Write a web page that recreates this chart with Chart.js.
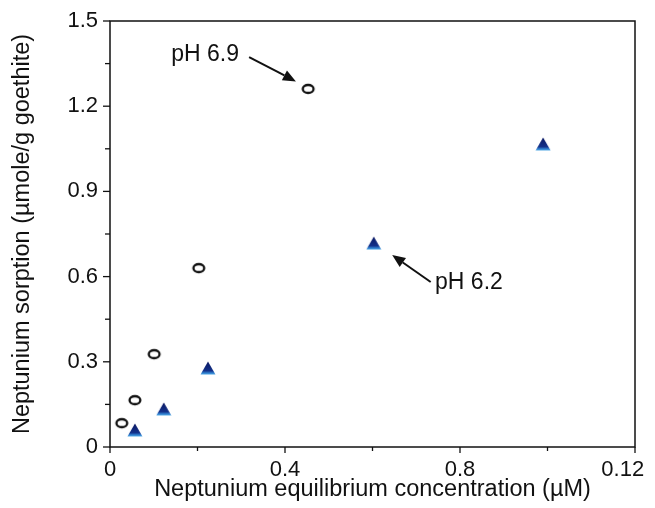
<!DOCTYPE html>
<html>
<head>
<meta charset="utf-8">
<script src="https://cdn.jsdelivr.net/npm/chart.js@4.4.1/dist/chart.umd.min.js"></script>
<style>
html,body{margin:0;padding:0;background:#fff;}
#wrap{width:655px;height:508px;position:relative;}
</style>
</head>
<body>
<div id="wrap"><canvas id="c" width="655" height="508"></canvas></div>
<script>
// ---- data ----
const ph69X = [0.027, 0.057, 0.101, 0.203, 0.453];
const ph69Y = [0.084, 0.165, 0.327, 0.630, 1.261];
const ph62X = [0.057, 0.123, 0.224, 0.603, 0.990];
const ph62Y = [0.060, 0.134, 0.278, 0.718, 1.067];

const xTickValues = [0, 0.4, 0.8, 1.2];
const xTickLabels = ['0', '0.4', '0.8', '0.12    '];
const yTickValues = [0, 0.3, 0.6, 0.9, 1.2, 1.5];
const yTickLabels = ['0', '0.3', '0.6', '0.9', '1.2', '1.5'];

const xTitle = 'Neptunium equilibrium concentration (\u00b5M)';
const yTitle = 'Neptunium sorption (\u00b5mole/g goethite)';

// annotation text + arrow (data units)
const annotations = [
  {text: 'pH 6.9', tx: 0.140, ty: 1.380, x0: 0.318, y0: 1.373, x1: 0.425, y1: 1.287},
  {text: 'pH 6.2', tx: 0.743, ty: 0.577, x0: 0.733, y0: 0.581, x1: 0.645, y1: 0.676}
];

const FONT = '"Liberation Sans", Arial, sans-serif';

// marker images
function makeCircle(){
  const c = document.createElement('canvas'); c.width = 16; c.height = 14;
  const g = c.getContext('2d');
  g.beginPath(); g.ellipse(8, 7, 5.4, 4.0, 0, 0, Math.PI*2);
  g.fillStyle = '#fff'; g.fill();
  g.lineWidth = 2.3; g.strokeStyle = '#111'; g.stroke();
  return c;
}
function makeTriangle(){
  const c = document.createElement('canvas'); c.width = 16; c.height = 14;
  const g = c.getContext('2d');
  g.beginPath(); g.moveTo(8, 0.5); g.lineTo(15.5, 13.5); g.lineTo(0.5, 13.5); g.closePath();
  const gr = g.createLinearGradient(0, 0, 0, 14);
  gr.addColorStop(0, '#0a1660'); gr.addColorStop(0.7, '#13318a'); gr.addColorStop(0.85, '#2f7fcf'); gr.addColorStop(1, '#5db4ea');
  g.fillStyle = gr; g.fill();
  return c;
}

function idx(vals, v){ return vals.findIndex(t => Math.abs(t - v) < 1e-6); }

const frameAndTicks = {
  id: 'frameAndTicks',
  afterDraw(chart){
    const {ctx, chartArea: a, scales: {x, y}} = chart;
    ctx.save();
    ctx.strokeStyle = '#111'; ctx.lineWidth = 1.5;
    ctx.strokeRect(a.left, a.top, a.right - a.left, a.bottom - a.top);
    ctx.lineWidth = 1.3;
    x.ticks.forEach(t => {
      const px = x.getPixelForValue(t.value);
      const major = idx(xTickValues, t.value) >= 0;
      ctx.beginPath(); ctx.moveTo(px, a.bottom); ctx.lineTo(px, a.bottom + (major ? 6 : 4)); ctx.stroke();
    });
    y.ticks.forEach(t => {
      const py = y.getPixelForValue(t.value);
      const major = idx(yTickValues, t.value) >= 0;
      ctx.beginPath(); ctx.moveTo(a.left, py); ctx.lineTo(a.left - (major ? 7 : 5), py); ctx.stroke();
    });
    // annotations
    ctx.fillStyle = '#111'; ctx.strokeStyle = '#111';
    ctx.font = '23px ' + FONT; ctx.textBaseline = 'middle'; ctx.textAlign = 'left';
    annotations.forEach(an => {
      ctx.fillText(an.text, x.getPixelForValue(an.tx), y.getPixelForValue(an.ty));
      const X0 = x.getPixelForValue(an.x0), Y0 = y.getPixelForValue(an.y0);
      const X1 = x.getPixelForValue(an.x1), Y1 = y.getPixelForValue(an.y1);
      const ang = Math.atan2(Y1 - Y0, X1 - X0);
      const hl = 13, hw = 5.5;
      const bx = X1 - hl*Math.cos(ang), by = Y1 - hl*Math.sin(ang);
      ctx.lineWidth = 2;
      ctx.beginPath(); ctx.moveTo(X0, Y0); ctx.lineTo(bx, by); ctx.stroke();
      ctx.beginPath(); ctx.moveTo(X1, Y1);
      ctx.lineTo(bx + hw*Math.sin(ang), by - hw*Math.cos(ang));
      ctx.lineTo(bx - hw*Math.sin(ang), by + hw*Math.cos(ang));
      ctx.closePath(); ctx.fill();
    });
    ctx.restore();
  }
};

new Chart(document.getElementById('c'), {
  type: 'scatter',
  data: {
    datasets: [
      {label: 'pH 6.9', data: ph69X.map((v, i) => ({x: v, y: ph69Y[i]})), pointStyle: makeCircle()},
      {label: 'pH 6.2', data: ph62X.map((v, i) => ({x: v, y: ph62Y[i]})), pointStyle: makeTriangle()}
    ]
  },
  options: {
    responsive: false, animation: false, devicePixelRatio: 1,
    layout: {padding: {left: 0, right: 20, top: 21, bottom: 0}},
    plugins: {legend: {display: false}, tooltip: {enabled: false}},
    scales: {
      x: {
        type: 'linear', min: 0, max: 1.2,
        afterFit(s){ s.height = 61; s.paddingLeft = 0; s.paddingRight = 0; },
        border: {display: false},
        grid: {display: true, drawOnChartArea: false, drawTicks: false},
        ticks: {
          stepSize: 0.2, padding: 10, color: '#111', maxRotation: 0, autoSkip: false,
          font: {family: FONT, size: 22},
          callback(v){ const i = idx(xTickValues, v); return i >= 0 ? xTickLabels[i] : ''; }
        },
        title: {display: true, text: xTitle, color: '#111', font: {family: FONT, size: 23.5}, padding: {top: 0, bottom: 4}}
      },
      y: {
        type: 'linear', min: 0, max: 1.5,
        afterFit(s){ s.width = 110; s.paddingTop = 0; s.paddingBottom = 0; },
        border: {display: false},
        grid: {display: true, drawOnChartArea: false, drawTicks: false},
        ticks: {
          stepSize: 0.15, padding: 12, color: '#111', autoSkip: false,
          font: {family: FONT, size: 22},
          callback(v){ const i = idx(yTickValues, v); return i >= 0 ? yTickLabels[i] : ''; }
        },
        title: {display: true, text: yTitle, color: '#111', font: {family: FONT, size: 23.5}, padding: {top: 8, bottom: 0}}
      }
    }
  },
  plugins: [frameAndTicks]
});
</script>
</body>
</html>
